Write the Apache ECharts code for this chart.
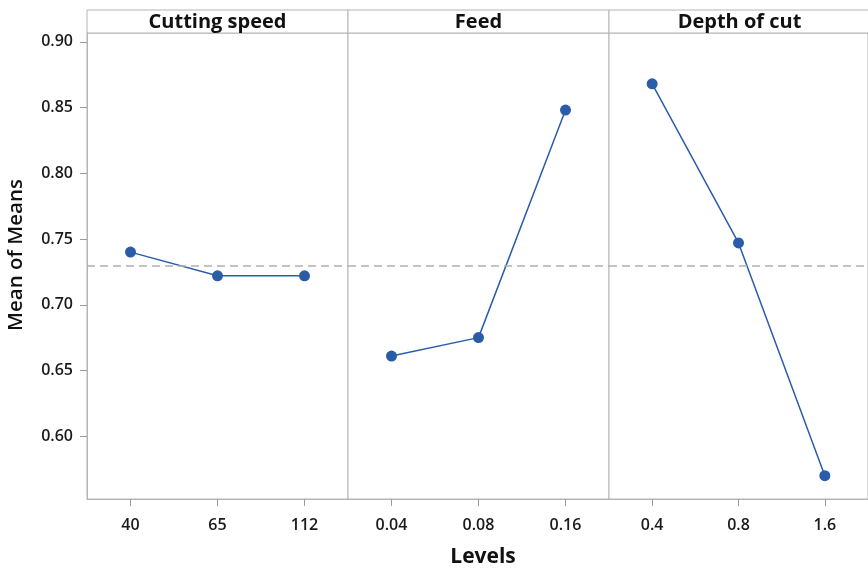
<!DOCTYPE html>
<html>
<head>
<meta charset="utf-8">
<script src="https://cdn.jsdelivr.net/npm/echarts@6/dist/echarts.min.js"></script>
<style>
  html, body { margin: 0; padding: 0; background: #fff; }
  #chart { width: 868px; height: 570px; }
</style>
</head>
<body>
<div id="chart"></div>
<script>
// factor names and levels
const factors = ['Cutting speed', 'Feed', 'Depth of cut'];
const speedLevels = ['40', '65', '112'];
const feedLevels = ['0.04', '0.08', '0.16'];
const depthLevels = ['0.4', '0.8', '1.6'];

// mean of means at each level
const speedMeans = [0.740, 0.722, 0.722];
const feedMeans = [0.661, 0.675, 0.848];
const depthMeans = [0.868, 0.747, 0.570];

const overallMean = 0.728;
const yTicks = [0.60, 0.65, 0.70, 0.75, 0.80, 0.85, 0.90];
const yMin = 0.5523;
const yMax = 0.9066;

const levels = [speedLevels, feedLevels, depthLevels];
const means = [speedMeans, feedMeans, depthMeans];

const FONT = '"Open Sans", "Noto Sans", sans-serif';
const GRAY = '#b4b4b4';
const TICK = '#9a9a9a';
const BLUE = '#2a5caa';

const panelLeft = [87, 348, 609];
const panelWidth = 261;
const plotTop = 33;
const plotBottom = 499;

const chart = echarts.init(document.getElementById('chart'), null, { renderer: 'canvas' });

const grids = panelLeft.map(l => ({
  left: l, width: panelWidth, top: plotTop, height: plotBottom - plotTop,
  show: true, borderColor: GRAY, borderWidth: 1, backgroundColor: '#fff'
}));

const xAxes = levels.map((lv, i) => ({
  type: 'category', gridIndex: i, data: lv, boundaryGap: true,
  axisLine: { show: true, lineStyle: { color: GRAY } },
  axisTick: { show: true, alignWithLabel: true, length: 7, lineStyle: { color: TICK, width: 1 } },
  axisLabel: { color: '#1a1a1a', fontSize: 16, fontWeight: 600, fontFamily: FONT, margin: 18 },
  splitLine: { show: false }
}));

const yAxes = levels.map((lv, i) => ({
  type: 'value', gridIndex: i, min: yMin, max: yMax,
  axisLine: { show: i === 0, lineStyle: { color: GRAY } },
  axisTick: { show: false },
  axisLabel: {
    show: i === 0, customValues: yTicks, color: '#1a1a1a', fontSize: 16, fontWeight: 600,
    fontFamily: FONT, margin: 14, formatter: v => v.toFixed(2)
  },
  splitLine: { show: false }
}));

const series = means.map((m, i) => ({
  type: 'line', xAxisIndex: i, yAxisIndex: i, data: m,
  symbol: 'circle', symbolSize: 11,
  itemStyle: { color: BLUE },
  lineStyle: { color: BLUE, width: 1.5 },
  animation: false,
  markLine: {
    silent: true, symbol: 'none', label: { show: false },
    lineStyle: { color: '#b0b0b0', type: [8, 5], width: 1.5 },
    data: [{ yAxis: overallMean }]
  }
}));

chart.setOption({
  backgroundColor: '#fff',
  animation: false,
  grid: grids,
  xAxis: xAxes,
  yAxis: yAxes,
  series: series
});

// panel headers, axis titles and the y ticks
const graphics = [];
panelLeft.forEach((l, i) => {
  graphics.push({
    type: 'rect', shape: { x: l, y: 10, width: panelWidth, height: plotTop - 10 },
    style: { fill: '#fff', stroke: GRAY, lineWidth: 1 }
  });
  graphics.push({
    type: 'text', x: l + panelWidth / 2, y: 22,
    style: {
      text: factors[i], fill: '#111', font: 'bold 20px ' + FONT,
      textAlign: 'center', textVerticalAlign: 'middle'
    }
  });
});
graphics.push({
  type: 'text', x: 483, y: 557,
  style: { text: 'Levels', fill: '#111', font: 'bold 21px ' + FONT, textAlign: 'center', textVerticalAlign: 'middle' }
});
graphics.push({
  type: 'text', x: 16, y: 255, rotation: Math.PI / 2,
  style: { text: 'Mean of Means', fill: '#111', font: '600 20.5px ' + FONT, textAlign: 'center', textVerticalAlign: 'middle' }
});

function tickY(v) {
  const p = chart.convertToPixel({ gridIndex: 0 }, [0, v]);
  let py = p ? Number(p[1]) : NaN;
  if (!isFinite(py) || py < plotTop || py > plotBottom) {
    py = plotTop + (yMax - v) / (yMax - yMin) * (plotBottom - plotTop);
  }
  return Math.round(py);
}
yTicks.forEach(v => {
  const py = tickY(v);
  graphics.push({
    type: 'rect', z: 100,
    shape: { x: panelLeft[0] - 7, y: py, width: 7, height: 1 },
    style: { fill: TICK }
  });
});

chart.setOption({ graphic: graphics });
</script>
</body>
</html>
